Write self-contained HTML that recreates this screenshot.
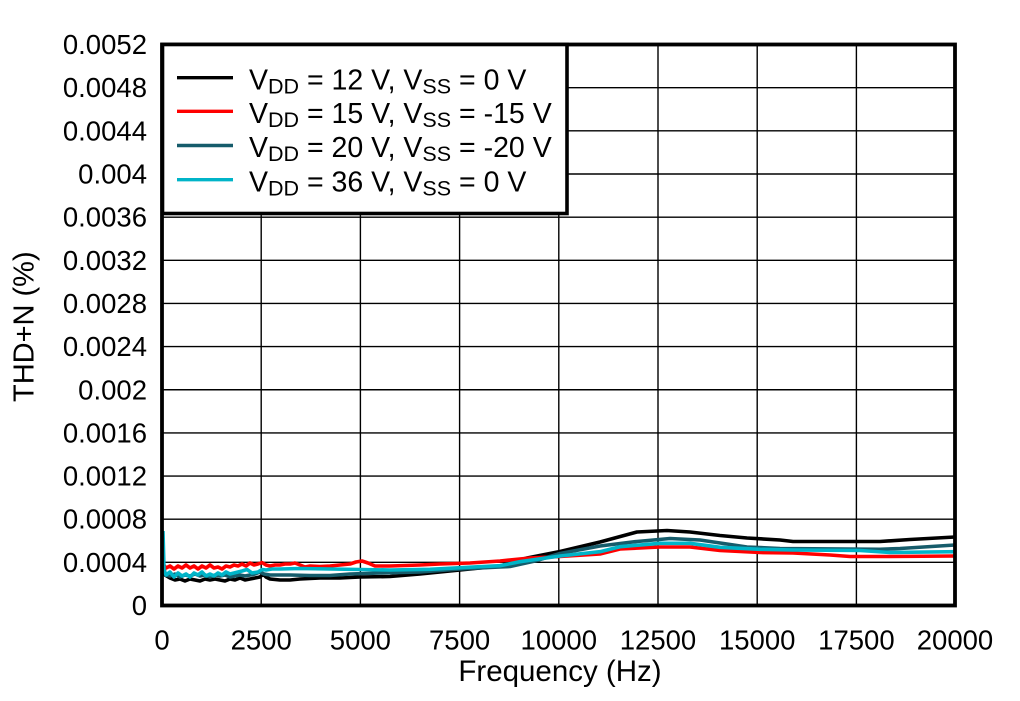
<!DOCTYPE html>
<html>
<head>
<meta charset="utf-8">
<style>
html,body{margin:0;padding:0;background:#fff;}
svg{display:block;}
text{font-family:"Liberation Sans",Arial,sans-serif;fill:#000;}
</style>
</head>
<body>
<svg width="1020" height="701" viewBox="0 0 1020 701" xmlns="http://www.w3.org/2000/svg">
<rect x="0" y="0" width="1020" height="701" fill="#fff"/>
<!-- grid -->
<g stroke="#000" stroke-width="1.4" fill="none">
<line x1="261.2" y1="44.5" x2="261.2" y2="605.5"/>
<line x1="360.4" y1="44.5" x2="360.4" y2="605.5"/>
<line x1="459.6" y1="44.5" x2="459.6" y2="605.5"/>
<line x1="558.8" y1="44.5" x2="558.8" y2="605.5"/>
<line x1="658" y1="44.5" x2="658" y2="605.5"/>
<line x1="757.2" y1="44.5" x2="757.2" y2="605.5"/>
<line x1="856.4" y1="44.5" x2="856.4" y2="605.5"/>
<line x1="162" y1="562.35" x2="955" y2="562.35"/>
<line x1="162" y1="519.2" x2="955" y2="519.2"/>
<line x1="162" y1="476.05" x2="955" y2="476.05"/>
<line x1="162" y1="432.9" x2="955" y2="432.9"/>
<line x1="162" y1="389.75" x2="955" y2="389.75"/>
<line x1="162" y1="346.6" x2="955" y2="346.6"/>
<line x1="162" y1="303.45" x2="955" y2="303.45"/>
<line x1="162" y1="260.3" x2="955" y2="260.3"/>
<line x1="162" y1="217.15" x2="955" y2="217.15"/>
<line x1="162" y1="174" x2="955" y2="174"/>
<line x1="162" y1="130.85" x2="955" y2="130.85"/>
<line x1="162" y1="87.7" x2="955" y2="87.7"/>
</g>
<!-- series -->
<g fill="none" stroke-width="3.6" stroke-linejoin="round">
<polyline stroke="#000" points="163,560 165,575 170,578 175,580 180,579 185,581 190,579 195,580 200,581 205,579 210,580 215,579 220,580 225,581 230,579 235,580 240,578 245,580 250,579 255,578 260,577 263,574 266,577 270,579 280,580 290,580 300,579 320,578 340,578 360,577 390,576.5 420,574 460,570 500,566 527,558 560,551.5 600,542 637,532 667,530.5 690,532 720,535.5 747,538 780,540 793,541.5 880,541.5 910,539.5 955,537"/>
<polyline stroke="#ff0000" points="163,564 166,568 170,566 174,569 178,566 182,568 186,565 190,568 194,566 198,569 202,566 206,568 210,565 214,568 218,567 222,569 226,566 230,567 234,565 238,566 242,564 246,566 250,563 254,565 258,564 262,562.5 266,565 270,566 275,565 280,565 285,564 290,564 295,563 300,565 305,567 310,566 320,566.5 330,566 340,565 350,564 356,562 362,561 368,563 375,566 390,566 420,565 440,564 470,563 500,561 530,558 560,556.5 600,554 620,549 660,547 690,547 720,550.5 760,552.5 793,553 830,555 850,556.5 890,556.5 955,556"/>
<polyline stroke="#165c6b" points="163,568 166,575 170,576 175,574 180,577 185,575 190,576 195,574 200,576 205,575 210,577 215,575 220,576 225,575 230,577 235,576 240,575 245,576 250,575 255,574 260,572 264,574 270,575 290,575 310,575.5 330,575.5 350,574 380,573 420,572 460,569 500,567 510,566.5 535,561 560,553.5 600,546 637,541.5 670,538.5 700,540 747,547 780,548.5 880,549.3 900,548.5 955,545"/>
<polyline stroke="#00b4c8" points="163,531 164,570 166,575 170,572 174,577 178,573 182,576 186,574 190,577 194,573 198,575 202,572 206,576 210,574 214,576 218,573 222,575 226,572 230,574 234,573 238,572 242,571 247,569.5 252,573 258,572 262,569.5 266,570 272,569 280,569 300,568.5 330,569 360,569.5 390,570 430,569.3 480,566.7 500,565.7 520,561.7 560,556 600,551.7 620,546.7 660,543.3 690,543.3 720,547.3 760,549.3 793,550 860,550.5 890,552.5 955,551.7"/>
</g>
<!-- plot frame -->
<rect x="162" y="44.5" width="793" height="561" fill="none" stroke="#000" stroke-width="3.8"/>
<!-- legend -->
<rect x="162.5" y="44.5" width="404.5" height="169" fill="#fff" stroke="#000" stroke-width="3.6"/>
<g stroke-width="3.4">
<line x1="177" y1="77.7" x2="233" y2="77.7" stroke="#000"/>
<line x1="177" y1="111.3" x2="233" y2="111.3" stroke="#ff0000"/>
<line x1="177" y1="145.5" x2="233" y2="145.5" stroke="#165c6b"/>
<line x1="177" y1="179.7" x2="233" y2="179.7" stroke="#00b4c8"/>
</g>
<g font-size="28.5">
<text x="249" y="89.3">V<tspan font-size="21.5" dy="4">DD</tspan><tspan dy="-4"> = 12 V, V</tspan><tspan font-size="21.5" dy="4">SS</tspan><tspan dy="-4"> = 0 V</tspan></text>
<text x="249" y="123">V<tspan font-size="21.5" dy="4">DD</tspan><tspan dy="-4"> = 15 V, V</tspan><tspan font-size="21.5" dy="4">SS</tspan><tspan dy="-4"> = -15 V</tspan></text>
<text x="249" y="157.2">V<tspan font-size="21.5" dy="4">DD</tspan><tspan dy="-4"> = 20 V, V</tspan><tspan font-size="21.5" dy="4">SS</tspan><tspan dy="-4"> = -20 V</tspan></text>
<text x="249" y="191.3">V<tspan font-size="21.5" dy="4">DD</tspan><tspan dy="-4"> = 36 V, V</tspan><tspan font-size="21.5" dy="4">SS</tspan><tspan dy="-4"> = 0 V</tspan></text>
</g>
<!-- y tick labels -->
<g font-size="27.5" text-anchor="end">
<text x="147" y="615">0</text>
<text x="147" y="571.9">0.0004</text>
<text x="147" y="528.7">0.0008</text>
<text x="147" y="485.6">0.0012</text>
<text x="147" y="442.4">0.0016</text>
<text x="147" y="399.3">0.002</text>
<text x="147" y="356.1">0.0024</text>
<text x="147" y="313">0.0028</text>
<text x="147" y="269.8">0.0032</text>
<text x="147" y="226.7">0.0036</text>
<text x="147" y="183.5">0.004</text>
<text x="147" y="140.4">0.0044</text>
<text x="147" y="97.2">0.0048</text>
<text x="147" y="54">0.0052</text>
</g>
<!-- x tick labels -->
<g font-size="27.5" text-anchor="middle">
<text x="162" y="649.5">0</text>
<text x="261.2" y="649.5">2500</text>
<text x="360.4" y="649.5">5000</text>
<text x="459.6" y="649.5">7500</text>
<text x="558.8" y="649.5">10000</text>
<text x="658" y="649.5">12500</text>
<text x="757.2" y="649.5">15000</text>
<text x="856.4" y="649.5">17500</text>
<text x="955" y="649.5">20000</text>
</g>
<!-- axis titles -->
<text x="560" y="681" font-size="29.5" text-anchor="middle">Frequency (Hz)</text>
<text transform="translate(33.3,326.7) rotate(-90)" font-size="29" text-anchor="middle">THD+N (%)</text>
</svg>
</body>
</html>
